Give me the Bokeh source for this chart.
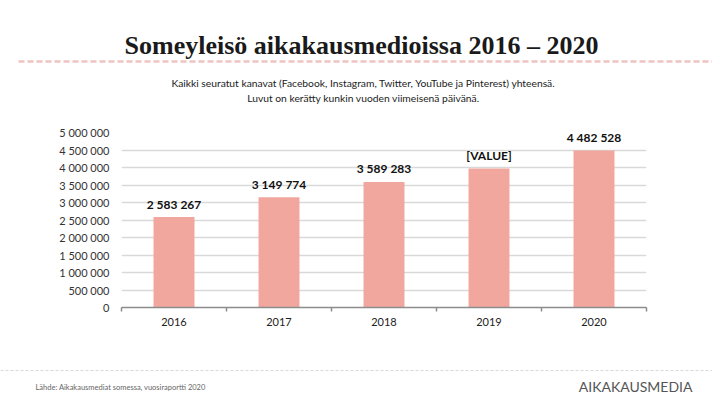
from bokeh.plotting import figure
from bokeh.layouts import column, row
from bokeh.models import ColumnDataSource, Range1d, FixedTicker, LabelSet
from bokeh.core.properties import value
from bokeh.embed import file_html
from bokeh.resources import INLINE

# ---- data ----
years = ["2016", "2017", "2018", "2019", "2020"]
audience = [2583267, 3149774, 3589283, 3970000, 4482528]
data_labels = ["2 583 267", "3 149 774", "3 589 283", "[VALUE]", "4 482 528"]
y_ticks = [0, 500000, 1000000, 1500000, 2000000, 2500000, 3000000,
           3500000, 4000000, 4500000, 5000000]

title_text = "Someyleisö aikakausmedioissa 2016 – 2020"
subtitle_1 = "Kaikki seuratut kanavat (Facebook, Instagram, Twitter, YouTube ja Pinterest) yhteensä."
subtitle_2 = "Luvut on kerätty kunkin vuoden viimeisenä päivänä."
source_text = "Lähde: Aikakausmediat somessa, vuosiraportti 2020"
logo_text = "AIKAKAUSMEDIA"

# ---- layout (pixels) ----
W = 712
TOP_H, MAIN_H, FOOT_H = 124, 236, 37
LEFT, RIGHT = 121, 66
MAIN_TOP, MAIN_BOTTOM = 8, 53


def blank(h):
    f = figure(width=W, height=h, output_backend="svg", toolbar_location=None,
               x_range=Range1d(0, W), y_range=Range1d(h, 0),
               min_border=0, min_border_left=0, min_border_right=0,
               min_border_top=0, min_border_bottom=0)
    f.axis.visible = False
    f.grid.visible = False
    f.outline_line_color = None
    f.background_fill_color = "white"
    f.border_fill_color = "white"
    return f


# ---- header ----
head = blank(TOP_H)
head.text(x=[361], y=[45], text=[title_text], text_align="center",
          text_baseline="alphabetic", text_font=value("Liberation Serif"),
          text_font_style="bold", text_font_size="26px", text_color="#1a1a1a")
head.line(x=[18, W], y=[61, 61], line_color="#efc3c0", line_width=2.5, line_dash="6 3")
head.text(x=[363, 363], y=[82, 97], text=[subtitle_1, subtitle_2], text_align="center",
          text_baseline="middle", text_font=value("Lato"), text_font_size="10.3px",
          text_color="#222222")

# ---- main chart ----
idx = list(range(len(years)))
src = ColumnDataSource(dict(x=idx, value=audience, label=data_labels))

p = figure(width=W, height=MAIN_H, output_backend="svg", toolbar_location=None,
           x_range=Range1d(-0.5, len(years) - 0.5), y_range=Range1d(0, 5000000),
           min_border_left=LEFT, min_border_right=RIGHT,
           min_border_top=MAIN_TOP, min_border_bottom=MAIN_BOTTOM)
p.outline_line_color = None
p.background_fill_color = "white"
p.border_fill_color = "white"

p.vbar(x="x", top="value", width=0.39, source=src,
       fill_color="#f1a79e", line_color=None)

p.add_layout(LabelSet(x="x", y="value", text="label", source=src,
                      y_offset=13, text_align="center", text_baseline="middle",
                      text_font=value("Lato"), text_font_style="bold",
                      text_font_size="12px", text_color="#111111"))

p.yaxis.ticker = FixedTicker(ticks=y_ticks)
p.yaxis.major_label_overrides = {t: f"{t:,}".replace(",", " ") for t in y_ticks}
p.yaxis.axis_line_color = None
p.yaxis.major_tick_line_color = None
p.yaxis.major_tick_out = 0
p.yaxis.major_tick_in = 0
p.yaxis.minor_tick_line_color = None
p.yaxis.major_label_standoff = 12
p.yaxis.major_label_text_font = "Lato"
p.yaxis.major_label_text_font_size = "11px"
p.yaxis.major_label_text_color = "#333333"

p.xaxis.ticker = FixedTicker(ticks=idx, minor_ticks=[i - 0.5 for i in range(len(years) + 1)])
p.xaxis.major_label_overrides = {i: y for i, y in zip(idx, years)}
p.xaxis.axis_line_color = "#8c8c8c"
p.xaxis.axis_line_width = 1.5
p.xaxis.major_tick_line_color = None
p.xaxis.major_tick_out = 0
p.xaxis.major_tick_in = 0
p.xaxis.minor_tick_line_color = "#8c8c8c"
p.xaxis.minor_tick_line_width = 1.5
p.xaxis.minor_tick_in = 0
p.xaxis.minor_tick_out = 4
p.xaxis.major_label_standoff = 6
p.xaxis.major_label_text_font = "Lato"
p.xaxis.major_label_text_font_size = "11px"
p.xaxis.major_label_text_color = "#222222"

p.xgrid.grid_line_color = None
p.ygrid.grid_line_color = "#d9d9d9"
p.ygrid.grid_line_width = 1.5

# ---- footer ----
foot = blank(FOOT_H)
foot.line(x=[0, W], y=[10, 10], line_color="#d8d8d8", line_width=1, line_dash="3 2")
foot.text(x=[35], y=[27], text=[source_text], text_align="left", text_baseline="middle",
          text_font=value("Lato"), text_font_size="7.5px", text_color="#666666")
foot.text(x=[692], y=[26], text=[logo_text], text_align="right", text_baseline="middle",
          text_font=value("Lato"), text_font_size="14px", text_color="#555555")

layout = column(row(head), p, row(foot), spacing=0)
open("out.html", "w").write(file_html(layout, INLINE))
